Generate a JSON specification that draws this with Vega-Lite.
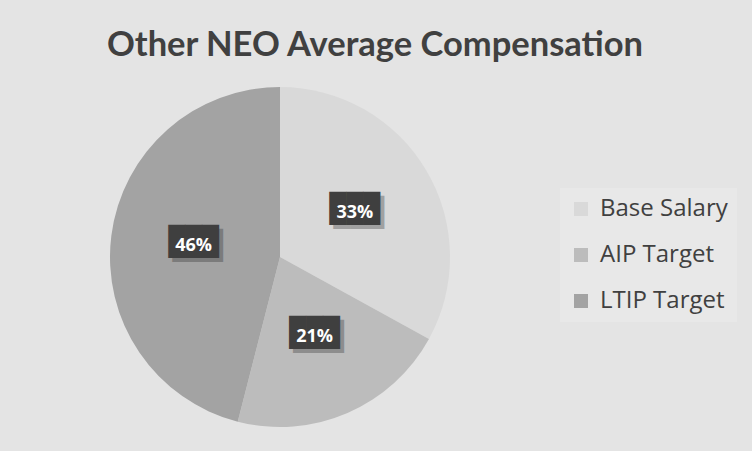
{
  "$schema": "https://vega.github.io/schema/vega-lite/v6.json",
  "width": 340,
  "height": 340,
  "autosize": {"type": "none"},
  "padding": {"left": 110, "top": 87, "right": 302, "bottom": 24},
  "background": "#e4e4e4",
  "title": {
    "text": "Other NEO Average Compensation",
    "font": "Lato",
    "fontSize": 34.5,
    "fontWeight": "bold",
    "color": "#404040",
    "anchor": "middle",
    "dx": 95,
    "offset": 24
  },
  "data": {
    "values": [
      {"category": "Base Salary", "share": 0.33, "rank": 1},
      {"category": "AIP Target", "share": 0.21, "rank": 2},
      {"category": "LTIP Target", "share": 0.46, "rank": 3}
    ]
  },
  "encoding": {
    "theta": {"field": "share", "type": "quantitative", "stack": true},
    "order": {"field": "rank", "type": "quantitative", "sort": "ascending"},
    "color": {
      "field": "category",
      "type": "nominal",
      "sort": ["Base Salary", "AIP Target", "LTIP Target"],
      "scale": {
        "domain": ["Base Salary", "AIP Target", "LTIP Target"],
        "range": ["#d9d9d9", "#bcbcbc", "#a3a3a3"]
      },
      "legend": {
        "title": null,
        "orient": "none",
        "legendX": 450,
        "legendY": 101,
        "fillColor": "#e8e8e8",
        "padding": 9,
        "symbolType": "square",
        "symbolSize": 196,
        "symbolStrokeWidth": 0,
        "symbolOpacity": 1,
        "labelFont": "Open Sans",
        "labelFontSize": 24,
        "labelColor": "#404040",
        "labelOffset": 7,
        "rowPadding": 22,
        "labelLimit": 300
      }
    }
  },
  "layer": [
    {"mark": {"type": "arc", "outerRadius": 170, "stroke": null}},
    {
      "mark": {"type": "text", "radius": 87, "font": "DejaVu Sans Mono", "fontSize": 28, "opacity": 0.3, "dx": 4, "dy": 1, "baseline": "middle"},
      "encoding": {"text": {"value": "███"}, "color": {"value": "#222222"}}
    },
    {
      "mark": {"type": "text", "radius": 87, "font": "DejaVu Sans Mono", "fontSize": 28, "dy": -3, "baseline": "middle"},
      "encoding": {"text": {"value": "███"}, "color": {"value": "#3f3f3f"}}
    },
    {
      "mark": {"type": "text", "radius": 87, "font": "Open Sans", "fontSize": 18, "fontWeight": "bold", "baseline": "middle"},
      "encoding": {
        "text": {"field": "share", "type": "quantitative", "format": ".0%"},
        "color": {"value": "#ffffff"}
      }
    }
  ]
}
